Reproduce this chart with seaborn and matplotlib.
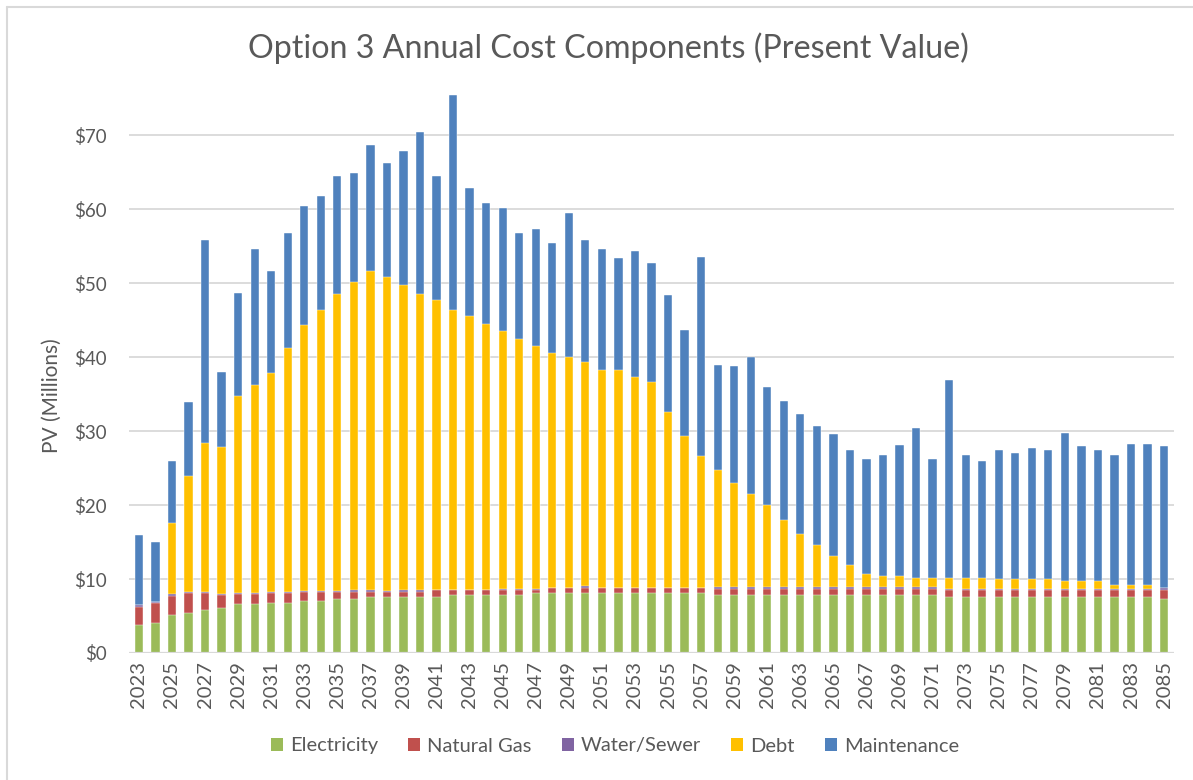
import matplotlib
matplotlib.use("Agg")
import matplotlib.pyplot as plt
import seaborn as sns
import numpy as np
import pandas as pd
from matplotlib.patches import Patch
from matplotlib.lines import Line2D

years = list(range(2023, 2086))

electricity = [3.85, 4.10, 5.10, 5.35, 5.80, 6.08, 6.58, 6.58, 6.80, 6.80,
               7.07, 7.07, 7.30, 7.30, 7.57, 7.57, 7.57, 7.57, 7.57, 7.80,
               7.80, 7.80, 7.80, 7.80, 8.06, 8.06, 8.06, 8.06, 8.06, 8.06,
               8.06, 8.06, 8.06, 8.06, 8.06, 7.80, 7.80, 7.80, 7.80, 7.80,
               7.80, 7.80, 7.80, 7.80, 7.80, 7.80, 7.80, 7.80, 7.80, 7.55,
               7.55, 7.55, 7.55, 7.55, 7.55, 7.55, 7.55, 7.55, 7.55, 7.55,
               7.55, 7.55, 7.28]

natural_gas = [2.40, 2.70, 2.65, 2.70, 2.26, 1.72, 1.42, 1.42, 1.26, 1.26,
               1.17, 1.17, 0.94, 0.99, 0.72, 0.72, 0.72, 0.72, 0.93, 0.70,
               0.70, 0.70, 0.70, 0.70, 0.44, 0.68, 0.68, 0.68, 0.68, 0.68,
               0.68, 0.68, 0.68, 0.68, 0.68, 0.90, 0.90, 0.90, 0.90, 0.90,
               0.90, 0.90, 0.90, 0.90, 0.90, 0.90, 0.90, 0.90, 0.90, 0.95,
               0.95, 0.95, 0.95, 0.95, 0.95, 0.95, 0.95, 0.95, 0.95, 0.95,
               0.95, 0.95, 1.30]

water_sewer = [0.30, 0.15, 0.22, 0.20, 0.20, 0.22, 0.08, 0.08, 0.20, 0.20,
               0.08, 0.08, 0.08, 0.22, 0.22, 0.08, 0.22, 0.22, 0.08, 0.08,
               0.08, 0.08, 0.22, 0.20, 0.20, 0.08, 0.08, 0.27, 0.08, 0.08,
               0.08, 0.08, 0.08, 0.08, 0.08, 0.20, 0.20, 0.20, 0.20, 0.20,
               0.20, 0.20, 0.20, 0.20, 0.20, 0.20, 0.20, 0.20, 0.20, 0.20,
               0.20, 0.20, 0.20, 0.20, 0.20, 0.20, 0.20, 0.20, 0.20, 0.20,
               0.20, 0.20, 0.20]

debt = [0.00, 0.00, 9.63, 15.75, 20.14, 19.88, 26.72, 28.22, 29.54, 32.94,
        36.08, 38.08, 40.28, 41.59, 43.09, 42.53, 41.29, 40.09, 39.12, 37.82,
        36.92, 35.92, 34.78, 33.80, 32.80, 31.78, 31.18, 30.29, 29.48, 29.48,
        28.48, 27.78, 23.78, 20.58, 17.88, 15.81, 14.06, 12.56, 11.06, 9.06,
        7.16, 5.66, 4.21, 2.96, 1.76, 1.51, 1.51, 1.26, 1.26, 1.50,
        1.50, 1.50, 1.25, 1.25, 1.25, 1.25, 1.00, 1.00, 1.00, 0.50,
        0.50, 0.50, 0.00]

maintenance = [9.35, 8.05, 8.30, 9.90, 27.50, 10.10, 13.90, 18.30, 13.90, 15.60,
               16.10, 15.40, 15.90, 14.80, 17.10, 15.30, 18.10, 21.80, 16.80, 29.00,
               17.40, 16.30, 16.70, 14.30, 15.80, 14.90, 19.50, 16.50, 16.30, 15.10,
               17.00, 16.20, 15.80, 14.30, 26.90, 14.25, 15.80, 18.50, 16.00, 16.10,
               16.30, 16.10, 16.55, 15.60, 15.60, 16.35, 17.75, 20.25, 16.10, 26.70,
               16.55, 15.80, 17.55, 17.05, 17.80, 17.55, 20.00, 18.30, 17.80, 17.55,
               19.00, 19.00, 19.22]

components = ["Electricity", "Natural Gas", "Water/Sewer", "Debt", "Maintenance"]
colors = ["#9BBB59", "#C0504D", "#8064A2", "#FFC000", "#4F81BD"]
y_ticks = [0, 10, 20, 30, 40, 50, 60, 70]
y_tick_labels = ["$0", "$10", "$20", "$30", "$40", "$50", "$60", "$70"]

df = pd.DataFrame({
    "Year": [str(y) for y in years],
    "Electricity": electricity,
    "Natural Gas": natural_gas,
    "Water/Sewer": water_sewer,
    "Debt": debt,
    "Maintenance": maintenance,
})

sns.set_theme(style="white")
plt.rcParams["font.family"] = ["Lato", "DejaVu Sans"]
text_color = "#595959"

fig = plt.figure(figsize=(11.93, 7.80), dpi=100)
ax = fig.add_axes([129 / 1193, 1 - 653 / 780, (1174 - 129) / 1193, (653 - 95) / 780])

# cumulative stacks, drawn from the top layer down
cum = df[components].cumsum(axis=1)
for comp, col in reversed(list(zip(components, colors))):
    sns.barplot(x=df["Year"], y=cum[comp], color=col, saturation=1, width=0.5,
                errorbar=None, ax=ax, edgecolor="white", linewidth=0.3, zorder=3)

ax.set_ylim(0, 75.45)
ax.set_xlim(-0.6, len(years) - 0.4)
ax.set_yticks(y_ticks)
ax.set_yticklabels(y_tick_labels, fontsize=13.5, color=text_color)
ax.yaxis.grid(True, color="#D9D9D9", linewidth=1.3, zorder=0)
ax.xaxis.grid(False)
for s in ax.spines.values():
    s.set_visible(False)
ax.axhline(0, color="#D9D9D9", linewidth=1.6, zorder=4)

ax.set_xticks(range(0, len(years), 2))
ax.set_xticklabels([str(y) for y in years[::2]], rotation=90, fontsize=14.5, color=text_color)
ax.tick_params(axis="both", length=0, pad=6)
ax.tick_params(axis="y", pad=16)
ax.set_xlabel("")
ax.set_ylabel("")

fig.text(52 / 1193, 1 - 396 / 780, "PV (Millions)", rotation=90, ha="center", va="center",
         fontsize=15, color=text_color)
fig.text(608 / 1193, 1 - 48 / 780, "Option 3 Annual Cost Components (Present Value)",
         ha="center", va="center", fontsize=23.2, color=text_color)

handles = [Patch(facecolor=c, edgecolor="none") for c in colors]
leg = fig.legend(handles, components, loc="center", bbox_to_anchor=(615 / 1193, 1 - 746 / 780),
                 ncol=5, frameon=False, fontsize=14.5, handlelength=0.6, handleheight=0.6,
                 handletextpad=0.35, columnspacing=1.5)
for t in leg.get_texts():
    t.set_color(text_color)

# chart border
fig.add_artist(Line2D([7 / 1193, 7 / 1193], [0, 1 - 7 / 780], color="#D9D9D9", linewidth=1.5,
                      transform=fig.transFigure))
fig.add_artist(Line2D([7 / 1193, 1], [1 - 7 / 780, 1 - 7 / 780], color="#D9D9D9", linewidth=1.5,
                      transform=fig.transFigure))

fig.savefig("out.png", dpi=100)
